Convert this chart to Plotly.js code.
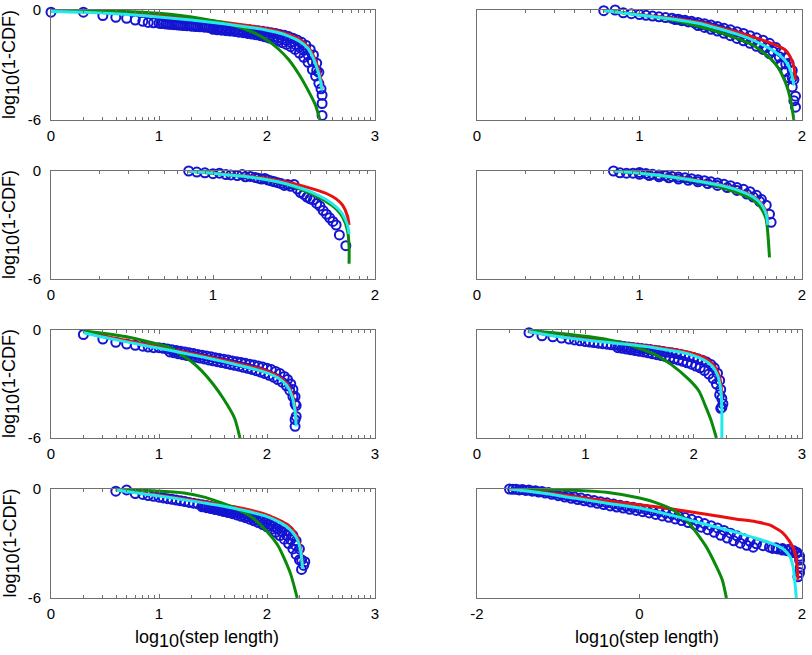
<!DOCTYPE html>
<html>
<head>
<meta charset="utf-8">
<script src="https://cdn.plot.ly/plotly-3.0.1.min.js"></script>
<style>html,body{margin:0;padding:0;background:#fff;}#chart{width:812px;height:655px;}</style>
</head>
<body>
<div id="chart"></div>
<script>
// ---------- Panel 1 (row 1, left) ----------
const p1_blue_x = [0, 0.30, 0.48, 0.60, 0.70, 0.78, 0.85, 0.90, 0.95,
  1.00, 1.04, 1.08, 1.12, 1.16, 1.20, 1.24, 1.28, 1.32, 1.36, 1.40, 1.44, 1.48, 1.52, 1.56, 1.60, 1.64, 1.68, 1.72, 1.76, 1.80, 1.84, 1.88, 1.92, 1.96, 2.00, 2.04, 2.08, 2.12, 2.16, 2.20, 2.24, 2.28, 2.32, 2.36, 2.40, 2.43, 2.46, 2.48,
  1.02, 1.06, 1.10, 1.14, 1.18, 1.22, 1.26, 1.30, 1.34, 1.38, 1.42, 1.46, 1.50, 1.54, 1.58, 1.62, 1.66, 1.70, 1.74, 1.78, 1.82, 1.86, 1.90, 1.94, 1.98, 2.02, 2.06, 2.10, 2.14, 2.18, 2.22, 2.26, 2.30, 2.34, 2.38, 2.42, 2.46,
  1.50, 1.54, 1.58, 1.62, 1.66, 1.70, 1.74, 1.78, 1.82, 1.86, 1.90, 1.94, 1.98, 2.02, 2.06, 2.10, 2.14, 2.18, 2.22, 2.26, 2.30, 2.34, 2.38, 2.42, 2.45, 2.48,
  2.50, 2.51, 2.51, 2.51];
const p1_blue_y = [-0.12, -0.12, -0.30, -0.40, -0.45, -0.55, -0.62, -0.68, -0.70,
  -0.72, -0.74, -0.76, -0.78, -0.80, -0.82, -0.84, -0.85, -0.87, -0.88, -0.90, -0.91, -0.93, -0.94, -0.96, -0.97, -0.99, -1.00, -1.02, -1.03, -1.05, -1.08, -1.10, -1.13, -1.16, -1.20, -1.24, -1.28, -1.33, -1.38, -1.45, -1.54, -1.64, -1.76, -1.92, -2.15, -2.45, -2.90, -3.40,
  -0.74, -0.76, -0.78, -0.80, -0.82, -0.84, -0.86, -0.88, -0.90, -0.92, -0.94, -0.96, -0.99, -1.01, -1.03, -1.05, -1.07, -1.09, -1.11, -1.14, -1.17, -1.20, -1.24, -1.28, -1.33, -1.38, -1.44, -1.50, -1.58, -1.66, -1.76, -1.88, -2.02, -2.20, -2.45, -2.80, -3.30,
  -1.05, -1.08, -1.10, -1.13, -1.15, -1.17, -1.21, -1.24, -1.28, -1.31, -1.35, -1.40, -1.46, -1.53, -1.60, -1.68, -1.78, -1.88, -2.00, -2.15, -2.35, -2.58, -2.85, -3.25, -3.60, -4.00,
  -4.30, -4.65, -5.10, -5.75];
const p1_red_x = [0, 0.3, 0.6, 0.9, 1.1, 1.3, 1.5, 1.7, 1.9, 2.0, 2.1, 2.2, 2.3, 2.38, 2.43, 2.47, 2.50, 2.51];
const p1_red_y = [-0.07, -0.10, -0.17, -0.27, -0.36, -0.47, -0.60, -0.75, -0.92, -1.02, -1.15, -1.33, -1.60, -2.00, -2.50, -3.10, -3.80, -4.30];
const p1_cyan_x = [0, 0.3, 0.6, 0.9, 1.1, 1.3, 1.5, 1.7, 1.9, 2.0, 2.1, 2.2, 2.3, 2.38, 2.43, 2.47, 2.50, 2.51];
const p1_cyan_y = [-0.08, -0.12, -0.20, -0.33, -0.44, -0.55, -0.68, -0.83, -1.00, -1.10, -1.23, -1.42, -1.70, -2.10, -2.65, -3.30, -4.00, -4.40];
const p1_green_x = [0, 0.3, 0.6, 0.8, 1.0, 1.2, 1.4, 1.6, 1.8, 1.9, 2.0, 2.1, 2.2, 2.3, 2.4, 2.45, 2.49];
const p1_green_y = [-0.02, -0.03, -0.07, -0.11, -0.18, -0.30, -0.47, -0.70, -1.05, -1.30, -1.64, -2.10, -2.70, -3.55, -4.60, -5.20, -6.00];

// ---------- Panel 2 (row 1, right) ----------
const p2_blue_x = [0.78, 0.85, 0.90, 0.95,
  1.00, 1.04, 1.08, 1.12, 1.16, 1.20, 1.24, 1.28, 1.32, 1.36, 1.40, 1.44, 1.48, 1.52, 1.56, 1.60, 1.64, 1.68, 1.72, 1.76, 1.80, 1.84, 1.87, 1.90, 1.92, 1.94, 1.95,
  1.22, 1.26, 1.30, 1.34, 1.38, 1.42, 1.46, 1.50, 1.54, 1.58, 1.62, 1.66, 1.70, 1.74, 1.78, 1.82, 1.86, 1.90, 1.94,
  1.36, 1.40, 1.44, 1.48, 1.52, 1.56, 1.60, 1.64, 1.68, 1.72, 1.76, 1.80, 1.84, 1.87, 1.90, 1.92, 1.94, 1.96, 1.96, 1.95];
const p2_blue_y = [-0.04, 0, -0.15, -0.20,
  -0.25, -0.29, -0.33, -0.37, -0.41, -0.45, -0.50, -0.56, -0.62, -0.68, -0.75, -0.82, -0.90, -1.00, -1.08, -1.18, -1.28, -1.40, -1.52, -1.65, -1.82, -2.05, -2.30, -2.60, -2.90, -3.30, -3.80,
  -0.52, -0.58, -0.65, -0.72, -0.80, -0.88, -0.97, -1.07, -1.18, -1.29, -1.42, -1.56, -1.70, -1.86, -2.04, -2.25, -2.55, -2.95, -3.70,
  -0.85, -0.95, -1.05, -1.15, -1.27, -1.40, -1.55, -1.68, -1.82, -1.98, -2.15, -2.38, -2.65, -2.95, -3.35, -3.70, -4.20, -4.70, -5.30, -4.95];
const p2_red_x = [0.78, 0.9, 1.0, 1.1, 1.2, 1.3, 1.4, 1.5, 1.6, 1.7, 1.8, 1.86, 1.90, 1.93, 1.95, 1.96];
const p2_red_y = [-0.03, -0.15, -0.25, -0.35, -0.45, -0.57, -0.72, -0.98, -1.20, -1.48, -1.78, -2.00, -2.20, -2.60, -3.10, -3.80];
const p2_cyan_x = [0.78, 0.9, 1.0, 1.1, 1.2, 1.3, 1.4, 1.5, 1.6, 1.7, 1.8, 1.86, 1.90, 1.93, 1.95];
const p2_cyan_y = [-0.03, -0.16, -0.27, -0.38, -0.49, -0.63, -0.80, -1.05, -1.32, -1.65, -2.10, -2.45, -2.80, -3.30, -4.10];
const p2_green_x = [0.80, 0.9, 1.0, 1.1, 1.2, 1.3, 1.4, 1.5, 1.6, 1.7, 1.8, 1.85, 1.90, 1.93, 1.95];
const p2_green_y = [-0.04, -0.15, -0.27, -0.40, -0.55, -0.75, -0.98, -1.24, -1.55, -1.92, -2.60, -3.10, -4.00, -4.90, -6.00];

// ---------- Panel 3 (row 2, left) ----------
const p3_blue_x = [0.85, 0.90, 0.95, 1.00, 1.04, 1.08, 1.11, 1.15, 1.18, 1.20, 1.23, 1.26, 1.28, 1.30, 1.32, 1.34, 1.36, 1.38, 1.40, 1.42, 1.44, 1.46, 1.48, 1.50, 1.52, 1.54, 1.56, 1.58, 1.60, 1.62, 1.64, 1.66, 1.68, 1.70, 1.72, 1.74, 1.76, 1.78, 1.82];
const p3_blue_y = [0, -0.06, -0.10, -0.15, -0.12, -0.20, -0.22, -0.25, -0.20, -0.32, -0.30, -0.36, -0.40, -0.45, -0.42, -0.50, -0.55, -0.60, -0.65, -0.70, -0.80, -0.75, -0.85, -0.75, -1.00, -1.20, -1.30, -1.45, -1.55, -1.60, -1.80, -1.95, -2.20, -2.40, -2.60, -2.80, -3.00, -3.55, -4.15];
const p3_red_x = [0.85, 1.0, 1.1, 1.2, 1.3, 1.4, 1.5, 1.6, 1.7, 1.76, 1.80, 1.83, 1.84];
const p3_red_y = [0, -0.12, -0.20, -0.28, -0.38, -0.52, -0.70, -0.95, -1.25, -1.55, -1.90, -2.50, -3.00];
const p3_cyan_x = [0.85, 1.0, 1.1, 1.2, 1.3, 1.4, 1.5, 1.6, 1.7, 1.76, 1.80, 1.83, 1.84];
const p3_cyan_y = [0, -0.13, -0.22, -0.31, -0.43, -0.60, -0.83, -1.15, -1.60, -2.00, -2.40, -3.00, -3.50];
const p3_green_x = [0.85, 1.0, 1.1, 1.2, 1.3, 1.4, 1.5, 1.6, 1.7, 1.76, 1.80, 1.83, 1.84, 1.84];
const p3_green_y = [0, -0.13, -0.22, -0.32, -0.44, -0.62, -0.88, -1.25, -1.70, -2.10, -2.55, -3.30, -4.20, -5.15];

// ---------- Panel 4 (row 2, right) ----------
const p4_blue_x = [0.84, 0.88, 0.92, 0.96, 1.00, 1.04, 1.08, 1.12, 1.16, 1.20, 1.24, 1.28, 1.32, 1.36, 1.40, 1.44, 1.48, 1.52, 1.56, 1.60, 1.64, 1.68, 1.72, 1.75, 1.78, 1.80, 1.81,
  1.00, 1.06, 1.12, 1.18, 1.24, 1.30, 1.36, 1.42, 1.48, 1.54, 1.60, 1.66, 1.70, 1.74];
const p4_blue_y = [0, -0.10, -0.12, -0.12, -0.08, -0.14, -0.18, -0.22, -0.26, -0.30, -0.34, -0.38, -0.43, -0.48, -0.54, -0.60, -0.66, -0.74, -0.82, -0.92, -1.02, -1.15, -1.35, -1.58, -1.90, -2.40, -2.85,
  -0.18, -0.25, -0.32, -0.38, -0.45, -0.52, -0.60, -0.70, -0.80, -0.92, -1.08, -1.28, -1.45, -1.70];
const p4_red_x = [0.84, 1.0, 1.2, 1.4, 1.5, 1.6, 1.7, 1.75, 1.78, 1.79];
const p4_red_y = [0, -0.11, -0.31, -0.60, -0.78, -1.02, -1.40, -1.80, -2.30, -2.90];
const p4_cyan_x = [0.84, 1.0, 1.2, 1.4, 1.5, 1.6, 1.7, 1.75, 1.78, 1.79];
const p4_cyan_y = [0, -0.12, -0.33, -0.62, -0.80, -1.05, -1.45, -1.85, -2.40, -3.00];
const p4_green_x = [0.84, 1.0, 1.2, 1.4, 1.5, 1.6, 1.7, 1.75, 1.78, 1.79, 1.80];
const p4_green_y = [0, -0.13, -0.36, -0.66, -0.90, -1.20, -1.60, -2.10, -2.70, -3.50, -4.80];

// ---------- Panel 5 (row 3, left) ----------
const p5_blue_x = [0.30, 0.48, 0.60, 0.70, 0.78, 0.85, 0.90, 0.95,
  1.00, 1.04, 1.08, 1.12, 1.16, 1.20, 1.24, 1.28, 1.32, 1.36, 1.40, 1.44, 1.48, 1.52, 1.56, 1.60, 1.64, 1.68, 1.72, 1.76, 1.80, 1.84, 1.88, 1.92, 1.96, 2.00, 2.04, 2.08, 2.12, 2.16, 2.19, 2.22, 2.24, 2.26, 2.27,
  1.10, 1.14, 1.18, 1.22, 1.26, 1.30, 1.34, 1.38, 1.42, 1.46, 1.50, 1.54, 1.58, 1.62, 1.66, 1.70, 1.74, 1.78, 1.82, 1.86, 1.90, 1.94, 1.98, 2.02, 2.06, 2.10, 2.14, 2.18, 2.21, 2.24, 2.26,
  2.26, 2.27, 2.26];
const p5_blue_y = [-0.25, -0.50, -0.68, -0.78, -0.85, -0.90, -0.95, -0.98,
  -0.98, -1.02, -1.06, -1.10, -1.14, -1.18, -1.22, -1.27, -1.31, -1.36, -1.40, -1.45, -1.49, -1.54, -1.58, -1.62, -1.67, -1.72, -1.76, -1.80, -1.85, -1.90, -1.95, -2.00, -2.06, -2.12, -2.20, -2.30, -2.42, -2.58, -2.75, -3.00, -3.30, -3.70, -4.20,
  -1.22, -1.27, -1.32, -1.37, -1.42, -1.46, -1.51, -1.56, -1.61, -1.66, -1.71, -1.76, -1.81, -1.86, -1.91, -1.96, -2.01, -2.07, -2.13, -2.19, -2.26, -2.34, -2.42, -2.52, -2.62, -2.75, -2.90, -3.10, -3.35, -3.70, -4.10,
  -4.98, -4.80, -5.35];
const p5_red_x = [0.30, 0.5, 0.7, 0.9, 1.1, 1.3, 1.5, 1.7, 1.9, 2.0, 2.1, 2.18, 2.23, 2.26, 2.27];
const p5_red_y = [-0.08, -0.35, -0.58, -0.82, -1.05, -1.30, -1.55, -1.82, -2.10, -2.28, -2.55, -2.95, -3.50, -4.30, -5.00];
const p5_cyan_x = [0.30, 0.5, 0.7, 0.9, 1.1, 1.3, 1.5, 1.7, 1.9, 2.0, 2.1, 2.18, 2.23, 2.26, 2.27];
const p5_cyan_y = [-0.15, -0.42, -0.66, -0.90, -1.13, -1.37, -1.62, -1.90, -2.20, -2.38, -2.65, -3.05, -3.65, -4.50, -5.35];
const p5_green_x = [0.30, 0.5, 0.7, 0.9, 1.0, 1.1, 1.2, 1.3, 1.4, 1.5, 1.6, 1.7, 1.75];
const p5_green_y = [-0.05, -0.20, -0.38, -0.65, -0.80, -0.97, -1.35, -1.75, -2.30, -3.00, -3.85, -4.90, -6.00];

// ---------- Panel 6 (row 3, right) ----------
const p6_blue_x = [0.48, 0.60, 0.70, 0.78, 0.85, 0.90, 0.95,
  1.00, 1.04, 1.08, 1.12, 1.16, 1.20, 1.24, 1.28, 1.32, 1.36, 1.40, 1.44, 1.48, 1.52, 1.56, 1.60, 1.64, 1.68, 1.72, 1.76, 1.80, 1.84, 1.88, 1.92, 1.96, 2.00, 2.04, 2.08, 2.12, 2.16, 2.19, 2.22, 2.24, 2.25, 2.26,
  1.30, 1.34, 1.38, 1.42, 1.46, 1.50, 1.54, 1.58, 1.62, 1.66, 1.70, 1.74, 1.78, 1.82, 1.86, 1.90, 1.94, 1.98, 2.02, 2.06, 2.10, 2.14, 2.18, 2.21, 2.24, 2.26,
  2.27, 2.25];
const p6_blue_y = [-0.15, -0.32, -0.38, -0.45, -0.50, -0.55, -0.60,
  -0.64, -0.67, -0.70, -0.73, -0.76, -0.79, -0.82, -0.85, -0.88, -0.91, -0.94, -0.97, -1.00, -1.03, -1.06, -1.09, -1.12, -1.15, -1.19, -1.23, -1.27, -1.31, -1.36, -1.41, -1.47, -1.53, -1.60, -1.68, -1.78, -1.92, -2.10, -2.40, -2.80, -3.30, -3.80,
  -0.98, -1.02, -1.06, -1.10, -1.14, -1.18, -1.22, -1.27, -1.32, -1.37, -1.42, -1.48, -1.54, -1.60, -1.67, -1.74, -1.82, -1.90, -2.00, -2.10, -2.25, -2.45, -2.70, -3.00, -3.60, -4.30,
  -4.10, -4.35];
const p6_red_x = [0.47, 0.7, 0.9, 1.1, 1.3, 1.5, 1.7, 1.9, 2.0, 2.1, 2.17, 2.22, 2.25, 2.26];
const p6_red_y = [-0.08, -0.30, -0.45, -0.58, -0.70, -0.83, -0.98, -1.17, -1.32, -1.55, -1.85, -2.30, -2.90, -3.70];
const p6_cyan_x = [0.47, 0.7, 0.9, 1.1, 1.3, 1.5, 1.7, 1.9, 2.0, 2.1, 2.17, 2.22, 2.25, 2.26, 2.26];
const p6_cyan_y = [-0.08, -0.32, -0.48, -0.62, -0.75, -0.88, -1.05, -1.25, -1.42, -1.68, -2.00, -2.50, -3.30, -4.40, -6.00];
const p6_green_x = [0.47, 0.7, 0.9, 1.04, 1.2, 1.35, 1.5, 1.65, 1.8, 1.96, 2.05, 2.11, 2.16, 2.21];
const p6_green_y = [-0.04, -0.15, -0.28, -0.37, -0.52, -0.74, -1.02, -1.38, -1.95, -2.77, -3.40, -4.24, -5.00, -6.00];

// ---------- Panel 7 (row 4, left) ----------
const p7_blue_x = [0.60, 0.70, 0.78, 0.85, 0.90, 0.95,
  1.00, 1.04, 1.08, 1.12, 1.16, 1.20, 1.24, 1.28, 1.32, 1.36, 1.40, 1.44, 1.48, 1.52, 1.56, 1.60, 1.64, 1.68, 1.72, 1.76, 1.80, 1.84, 1.88, 1.92, 1.96, 2.00, 2.04, 2.08, 2.12, 2.16, 2.20, 2.24, 2.27, 2.30, 2.32,
  1.42, 1.46, 1.50, 1.54, 1.58, 1.62, 1.66, 1.70, 1.74, 1.78, 1.82, 1.86, 1.90, 1.94, 1.98, 2.02, 2.06, 2.10, 2.14, 2.18, 2.22, 2.26,
  1.40, 1.44, 1.48, 1.52, 1.56, 1.60, 1.64, 1.68, 1.72, 1.76, 1.80, 1.84, 1.88, 1.92, 1.96, 2.00, 2.04, 2.08, 2.12, 2.16, 2.20, 2.24, 2.27, 2.30,
  2.32, 2.34, 2.35];
const p7_blue_y = [-0.12, -0.05, -0.25, -0.30, -0.36, -0.40,
  -0.45, -0.49, -0.53, -0.57, -0.61, -0.65, -0.69, -0.74, -0.78, -0.82, -0.87, -0.91, -0.96, -1.00, -1.05, -1.10, -1.14, -1.19, -1.24, -1.29, -1.35, -1.41, -1.47, -1.54, -1.61, -1.68, -1.77, -1.87, -1.98, -2.12, -2.30, -2.55, -2.85, -3.30, -3.90,
  -0.95, -0.99, -1.04, -1.09, -1.14, -1.19, -1.25, -1.30, -1.36, -1.43, -1.50, -1.57, -1.65, -1.74, -1.83, -1.94, -2.06, -2.20, -2.35, -2.54, -2.78, -3.08,
  -0.98, -1.03, -1.08, -1.13, -1.18, -1.24, -1.30, -1.36, -1.43, -1.50, -1.58, -1.66, -1.75, -1.85, -1.96, -2.08, -2.22, -2.38, -2.56, -2.76, -3.00, -3.30, -3.60, -3.90,
  -4.43, -4.20, -4.00];
const p7_red_x = [0.6, 0.8, 1.0, 1.2, 1.4, 1.6, 1.8, 2.0, 2.1, 2.2, 2.27, 2.31, 2.33];
const p7_red_y = [-0.04, -0.20, -0.35, -0.52, -0.70, -0.88, -1.10, -1.42, -1.68, -2.00, -2.50, -3.20, -4.30];
const p7_cyan_x = [0.6, 0.8, 1.0, 1.2, 1.4, 1.6, 1.8, 2.0, 2.1, 2.2, 2.27, 2.31, 2.33];
const p7_cyan_y = [-0.05, -0.22, -0.38, -0.56, -0.75, -0.95, -1.20, -1.52, -1.78, -2.15, -2.65, -3.35, -4.40];
const p7_green_x = [0.6, 0.8, 1.0, 1.23, 1.4, 1.54, 1.7, 1.85, 2.0, 2.1, 2.15, 2.22, 2.28];
const p7_green_y = [-0.02, -0.06, -0.12, -0.22, -0.42, -0.68, -1.05, -1.51, -2.34, -3.10, -3.70, -4.70, -6.00];

// ---------- Panel 8 (row 4, right) ----------
const p8_blue_x = [-1.60, -1.52, -1.44, -1.36, -1.28, -1.20, -1.12, -1.04, -0.96, -0.88, -0.80, -0.72, -0.64, -0.56, -0.48, -0.40, -0.32, -0.24, -0.16, -0.08, 0.00, 0.08, 0.16, 0.24, 0.32, 0.40, 0.48, 0.56, 0.64, 0.72, 0.80, 0.88, 0.96, 1.04, 1.12, 1.20, 1.28, 1.36, 1.44, 1.52, 1.60, 1.68, 1.76, 1.84, 1.90, 1.94, 1.97,
  -1.56, -1.48, -1.40, -1.32, -1.24, -1.16, -1.08, -1.00, -0.92, -0.84, -0.76, -0.68, -0.60, -0.52, -0.44, -0.36, -0.28, -0.20, -0.12, -0.04, 0.04, 0.12, 0.20, 0.28, 0.36, 0.44, 0.52, 0.60, 0.68, 0.76, 0.84, 0.92, 1.00, 1.08, 1.16, 1.24, 1.32, 1.40,
  1.64, 1.70, 1.76, 1.82, 1.88, 1.93, 1.97, 1.98, 1.97, 1.95];
const p8_blue_y = [0, -0.01, -0.03, -0.06, -0.10, -0.14, -0.19, -0.25, -0.31, -0.38, -0.44, -0.50, -0.57, -0.63, -0.70, -0.76, -0.82, -0.89, -0.95, -1.01, -1.07, -1.13, -1.19, -1.25, -1.32, -1.40, -1.48, -1.57, -1.67, -1.78, -1.90, -2.02, -2.14, -2.28, -2.43, -2.58, -2.73, -2.88, -3.02, -3.12, -3.20, -3.24, -3.28, -3.32, -3.40, -3.50, -3.70,
  -0.02, -0.05, -0.08, -0.12, -0.17, -0.22, -0.29, -0.37, -0.44, -0.51, -0.58, -0.65, -0.72, -0.79, -0.86, -0.93, -0.99, -1.05, -1.12, -1.18, -1.25, -1.32, -1.40, -1.48, -1.56, -1.65, -1.74, -1.85, -1.97, -2.10, -2.24, -2.38, -2.55, -2.70, -2.85, -2.98, -3.10, -3.20,
  -3.27, -3.30, -3.36, -3.40, -3.50, -3.54, -3.91, -4.30, -4.60, -4.83];
const p8_red_x = [-1.6, -1.2, -0.8, -0.4, 0, 0.4, 0.8, 1.2, 1.43, 1.6, 1.76, 1.85, 1.91, 1.94, 1.95];
const p8_red_y = [0, -0.18, -0.41, -0.65, -0.87, -1.10, -1.38, -1.66, -1.80, -1.98, -2.40, -2.90, -3.45, -4.20, -5.00];
const p8_cyan_x = [-1.6, -1.2, -0.8, -0.4, 0, 0.4, 0.8, 1.2, 1.43, 1.6, 1.76, 1.85, 1.89, 1.91, 1.93];
const p8_cyan_y = [0, -0.22, -0.50, -0.78, -1.05, -1.45, -1.93, -2.40, -2.71, -2.95, -3.27, -3.70, -4.28, -5.00, -6.00];
const p8_green_x = [-1.6, -1.2, -0.82, -0.41, 0, 0.2, 0.41, 0.61, 0.82, 0.95, 1.02, 1.07];
const p8_green_y = [0, -0.02, -0.07, -0.18, -0.50, -0.75, -1.14, -1.88, -3.17, -4.30, -5.02, -6.00];

// ---------- Axis ticks and titles ----------
const xticks_0_3 = [0, 1, 2, 3];
const xticks_0_2 = [0, 1, 2];
const xticks_m2_2 = [-2, 0, 2];
const yticks = [-6, 0];
const yTitle = 'log<sub><span style="font-size:18px">10</span></sub>(1-CDF)';
const xTitle = 'log<sub><span style="font-size:18px">10</span></sub>(step length)';

// ---------- Build panels ----------
const panels = [
  {bx:p1_blue_x, by:p1_blue_y, rx:p1_red_x, ry:p1_red_y, gx:p1_green_x, gy:p1_green_y, cx:p1_cyan_x, cy:p1_cyan_y, ticks:xticks_0_3, range:[0,3], col:0, row:0},
  {bx:p2_blue_x, by:p2_blue_y, rx:p2_red_x, ry:p2_red_y, gx:p2_green_x, gy:p2_green_y, cx:p2_cyan_x, cy:p2_cyan_y, ticks:xticks_0_2, range:[0,2], col:1, row:0},
  {bx:p3_blue_x, by:p3_blue_y, rx:p3_red_x, ry:p3_red_y, gx:p3_green_x, gy:p3_green_y, cx:p3_cyan_x, cy:p3_cyan_y, ticks:xticks_0_2, range:[0,2], col:0, row:1},
  {bx:p4_blue_x, by:p4_blue_y, rx:p4_red_x, ry:p4_red_y, gx:p4_green_x, gy:p4_green_y, cx:p4_cyan_x, cy:p4_cyan_y, ticks:xticks_0_2, range:[0,2], col:1, row:1},
  {bx:p5_blue_x, by:p5_blue_y, rx:p5_red_x, ry:p5_red_y, gx:p5_green_x, gy:p5_green_y, cx:p5_cyan_x, cy:p5_cyan_y, ticks:xticks_0_3, range:[0,3], col:0, row:2},
  {bx:p6_blue_x, by:p6_blue_y, rx:p6_red_x, ry:p6_red_y, gx:p6_green_x, gy:p6_green_y, cx:p6_cyan_x, cy:p6_cyan_y, ticks:xticks_0_3, range:[0,3], col:1, row:2},
  {bx:p7_blue_x, by:p7_blue_y, rx:p7_red_x, ry:p7_red_y, gx:p7_green_x, gy:p7_green_y, cx:p7_cyan_x, cy:p7_cyan_y, ticks:xticks_0_3, range:[0,3], col:0, row:3},
  {bx:p8_blue_x, by:p8_blue_y, rx:p8_red_x, ry:p8_red_y, gx:p8_green_x, gy:p8_green_y, cx:p8_cyan_x, cy:p8_cyan_y, ticks:xticks_m2_2, range:[-2,2], col:1, row:3, nominor:true}
];

const W = 812, H = 655;
const colPx = [[51, 375], [477, 802]];
const rowPx = [[10, 120], [171, 279], [330, 438], [489, 598]];

const BLUE = '#1414d2', RED = '#e81010', GREEN = '#0a8a0a', CYAN = '#22eaea';
const FRAME = '#707070';
const FONT = 'Liberation Sans, Arial, Helvetica, sans-serif';

function minorVals(range) {
  const v = [];
  for (let d = Math.floor(range[0]); d < range[1]; d++) {
    for (let k = 2; k <= 9; k++) v.push(d + Math.log10(k));
  }
  return v;
}

const traces = [];
const layout = {
  width: W, height: H,
  margin: {l: 0, r: 0, t: 0, b: 0},
  paper_bgcolor: '#fff', plot_bgcolor: '#fff',
  showlegend: false,
  font: {family: FONT, size: 14, color: '#000'},
  annotations: []
};

panels.forEach((p, i) => {
  const n = i + 1;
  const xa = 'x' + (n === 1 ? '' : n), ya = 'y' + (n === 1 ? '' : n);
  traces.push({x: p.bx, y: p.by, xaxis: xa, yaxis: ya, mode: 'markers', type: 'scatter', cliponaxis: false,
    marker: {symbol: 'circle-open', size: 9, color: BLUE, line: {width: 2, color: BLUE}}});
  traces.push({x: p.rx, y: p.ry, xaxis: xa, yaxis: ya, mode: 'lines', type: 'scatter', line: {color: RED, width: 3, shape: 'spline', smoothing: 0.6}});
  traces.push({x: p.gx, y: p.gy, xaxis: xa, yaxis: ya, mode: 'lines', type: 'scatter', line: {color: GREEN, width: 3, shape: 'spline', smoothing: 0.6}});
  traces.push({x: p.cx, y: p.cy, xaxis: xa, yaxis: ya, mode: 'lines', type: 'scatter', line: {color: CYAN, width: 3, shape: 'spline', smoothing: 0.6}});

  const cp = colPx[p.col], rp = rowPx[p.row];
  const xk = 'xaxis' + (n === 1 ? '' : n), yk = 'yaxis' + (n === 1 ? '' : n);
  layout[xk] = {
    domain: [cp[0] / W, cp[1] / W], anchor: ya, range: p.range,
    tickmode: 'array', tickvals: p.ticks, ticktext: p.ticks.map(String),
    ticks: 'inside', ticklen: 4, tickcolor: FRAME, tickwidth: 1,
    showline: true, linecolor: FRAME, linewidth: 1, mirror: 'allticks',
    showgrid: false, zeroline: false, ticklabelstandoff: 2,
    tickfont: {family: FONT, size: 15, color: '#000'},
    minor: p.nominor ? {ticks: ''} : {tickmode: 'array', tickvals: minorVals(p.range), ticks: 'inside', ticklen: 3, tickcolor: FRAME, tickwidth: 1},
    fixedrange: true
  };
  layout[yk] = {
    domain: [1 - rp[1] / H, 1 - rp[0] / H], anchor: xa, range: [-6, 0],
    tickmode: 'array', tickvals: yticks, ticktext: yticks.map(String),
    ticks: '', showticklabels: p.col === 0,
    showline: true, linecolor: FRAME, linewidth: 1, mirror: true,
    showgrid: false, zeroline: false, ticklabelstandoff: 6,
    tickfont: {family: FONT, size: 15, color: '#000'},
    fixedrange: true
  };
  if (p.col === 0) {
    layout.annotations.push({text: yTitle, xref: 'paper', yref: 'paper', x: 11 / W, y: 1 - ((rp[0] + rp[1]) / 2) / H,
      xanchor: 'center', yanchor: 'middle', textangle: -90, showarrow: false, font: {family: FONT, size: 18, color: '#000'}});
  }
  if (p.row === 3) {
    const cx = p.col === 0 ? 207 : 647;
    layout.annotations.push({text: xTitle, xref: 'paper', yref: 'paper', x: cx / W, y: 1 - 639 / H,
      xanchor: 'center', yanchor: 'middle', showarrow: false, font: {family: FONT, size: 18, color: '#000'}});
  }
});

Plotly.newPlot('chart', traces, layout, {staticPlot: true, displayModeBar: false});
</script>
</body>
</html>
